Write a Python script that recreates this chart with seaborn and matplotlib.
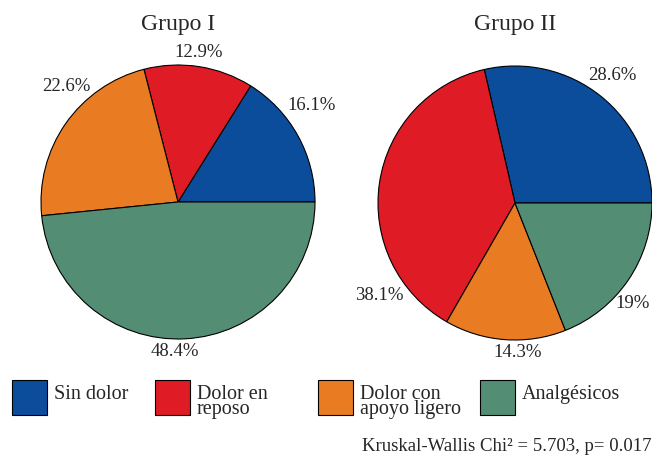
import matplotlib
matplotlib.use("Agg")
import numpy as np
import matplotlib.pyplot as plt
import seaborn as sns
from matplotlib.patches import Rectangle

# datos
categorias = ["Sin dolor", "Dolor en\nreposo", "Dolor con\napoyo ligero", "Analgésicos"]
grupos = ["Grupo I", "Grupo II"]
grupo1 = [16.1, 12.9, 22.6, 48.4]
grupo2 = [28.6, 38.1, 14.3, 19.0]
nota = "Kruskal-Wallis Chi² = 5.703, p= 0.017"

sns.set_theme(style="white")
plt.rcParams["font.family"] = ["Liberation Serif", "DejaVu Serif"]
colores = sns.color_palette(["#0b4c9b", "#df1b25", "#e97b22", "#538d74"])

W, H = 652, 457
fig = plt.figure(figsize=(W / 100, H / 100), dpi=100)

# layout (pixels)
R = 137
centros = [(178, 202), (515, 203)]
ajuste_ang = [[6.9, 1.0, -11.1, -4.0], [1.3, 42.9, 5.1, -6.1]]
ajuste_r = [[1.20, 1.10, 1.17, 1.095], [1.17, 1.20, 1.09, 1.13]]

for valores, titulo, (cx, cy), d_ang, d_r in zip([grupo1, grupo2], grupos, centros,
                                                 ajuste_ang, ajuste_r):
    lado = 2 * R + 40
    ax = fig.add_axes([(cx - lado / 2) / W, (H - cy - lado / 2) / H, lado / W, lado / H])
    lim = lado / 2 / R
    wedges, _ = ax.pie(valores, colors=colores, startangle=0, counterclock=True, radius=1,
                       wedgeprops=dict(edgecolor="black", linewidth=0.8))
    for w, v, da, dr in zip(wedges, valores, d_ang, d_r):
        ang = np.deg2rad((w.theta1 + w.theta2) / 2 + da)
        ax.text(dr * np.cos(ang), dr * np.sin(ang), f"{v:g}%",
                ha="center", va="center", fontsize=13.5)
    ax.set_xlim(-lim, lim)
    ax.set_ylim(-lim, lim)
    ax.set_aspect("equal")
    ax.axis("off")
    fig.text(cx / W, 1 - 30 / H, titulo, ha="center", va="baseline", fontsize=17)

# leyenda
leg_x = [12, 155, 318, 480]
caja = 35
for x, lab, col in zip(leg_x, categorias, colores):
    fig.patches.append(Rectangle((x / W, 1 - 415 / H), caja / W, caja / H,
                                 transform=fig.transFigure, facecolor=col,
                                 edgecolor="black", linewidth=0.8))
    fig.text((x + caja + 7) / W, 1 - 385 / H, lab, ha="left", va="top",
             fontsize=14.5, linespacing=0.7)

fig.text(651 / W, 1 - 451 / H, nota, ha="right", va="baseline", fontsize=13.5)

fig.savefig("out.png", dpi=100)
